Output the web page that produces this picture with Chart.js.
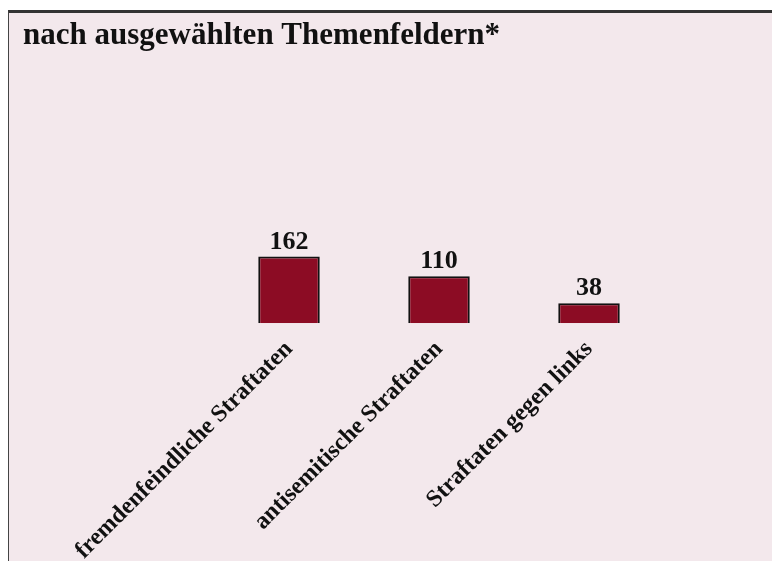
<!DOCTYPE html>
<html>
<head>
<meta charset="utf-8">
<script src="https://cdn.jsdelivr.net/npm/chart.js@4"></script>
<style>
  html, body { margin: 0; padding: 0; background: #fff; overflow: hidden; }
  #frame {
    position: absolute; left: 8px; top: 10px; width: 770px; height: 560px;
    border-top: 3px solid #333; border-left: 1px solid #444;
    background: #f3e8ec;
  }
  #wrap { position: absolute; left: 0; top: 0; width: 772px; height: 561px; }
</style>
</head>
<body>
<div id="frame"></div>
<div id="wrap"><canvas id="myChart"></canvas></div>
<script>
const titleText = 'nach ausgewählten Themenfeldern*';
const labels = ['fremdenfeindliche Straftaten', 'antisemitische Straftaten', 'Straftaten gegen links'];
const points = [162, 110, 38];

const serif = '"Liberation Serif", "Times New Roman", serif';

// title sits at the frame's top left, outside the plot padding
const titleAndValues = {
  id: 'titleAndValues',
  afterDraw(chart) {
    const ctx = chart.ctx;
    ctx.save();
    ctx.fillStyle = '#111';
    ctx.font = 'bold 31px ' + serif;
    ctx.textAlign = 'left';
    ctx.textBaseline = 'alphabetic';
    ctx.fillText(titleText, 23, 44);

    ctx.font = 'bold 26px ' + serif;
    ctx.textAlign = 'center';
    ctx.textBaseline = 'alphabetic';
    chart.getDatasetMeta(0).data.forEach((bar, i) => {
      ctx.fillText(points[i], bar.x, bar.y - 8);
    });
    ctx.restore();
  }
};

const data = {
  labels: labels,
  datasets: [{
    data: points,
    base: -15,
    backgroundColor: '#8c0c24',
    borderColor: '#111',
    borderWidth: 2,
    barPercentage: 0.41,
    categoryPercentage: 1
  }]
};

const config = {
  type: 'bar',
  data: data,
  plugins: [titleAndValues],
  options: {
    responsive: true,
    maintainAspectRatio: false,
    animation: false,
    layout: { padding: { left: 214, right: 108, top: 48, bottom: -8 } },
    plugins: {
      legend: { display: false },
      tooltip: { enabled: false },
      title: { display: false }
    },
    scales: {
      x: {
        grid: { display: false },
        border: { display: false },
        ticks: {
          color: '#111',
          font: { family: serif, size: 24, weight: 'bold' },
          minRotation: 45,
          maxRotation: 45,
          padding: 4
        }
      },
      y: {
        display: false,
        min: -15,
        max: 716
      }
    }
  }
};

const myChart = new Chart(document.getElementById('myChart'), config);
</script>
</body>
</html>
